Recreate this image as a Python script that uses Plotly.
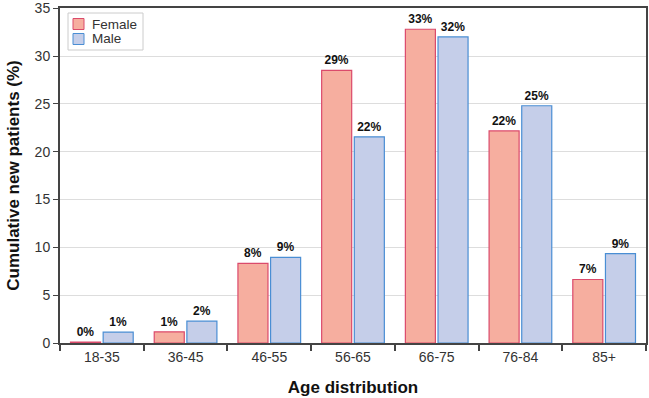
import plotly.graph_objects as go

categories = ["18-35", "36-45", "46-55", "56-65", "66-75", "76-84", "85+"]
female = [0.1, 1.17, 8.33, 28.5, 32.8, 22.17, 6.64]
male = [1.14, 2.28, 8.95, 21.55, 32.0, 24.8, 9.34]
female_labels = ["0%", "1%", "8%", "29%", "33%", "22%", "7%"]
male_labels = ["1%", "2%", "9%", "22%", "32%", "25%", "9%"]
series_names = ["Female", "Male"]

FONT = "Liberation Sans, Arial, sans-serif"
F_FILL, F_LINE = "#F6AE9F", "#DB4A6B"
M_FILL, M_LINE = "#C5CEE9", "#4A8ED4"

fig = go.Figure()
fig.add_trace(go.Bar(
    name=series_names[0], x=categories, y=female, text=female_labels,
    textposition="outside", cliponaxis=False,
    textfont=dict(family=FONT, size=12, color="#111111", weight="bold"),
    marker=dict(color=F_FILL, line=dict(color=F_LINE, width=1.2)),
))
fig.add_trace(go.Bar(
    name=series_names[1], x=categories, y=male, text=male_labels,
    textposition="outside", cliponaxis=False,
    textfont=dict(family=FONT, size=12, color="#111111", weight="bold"),
    marker=dict(color=M_FILL, line=dict(color=M_LINE, width=1.2)),
))

# custom legend, positioned in plot-area paper coordinates (plot: x 60..646, y 8..343 px)
def px_x(px):
    return (px - 60) / 586.0

def px_y(py):
    return (343 - py) / 335.0

fig.add_shape(type="rect", xref="paper", yref="paper", x0=px_x(68), x1=px_x(143), y0=px_y(50), y1=px_y(13),
              fillcolor="white", line=dict(color="#cccccc", width=1), layer="above")
fig.add_shape(type="rect", xref="paper", yref="paper", x0=px_x(73), x1=px_x(84), y0=px_y(29.5), y1=px_y(18.5),
              fillcolor=F_FILL, line=dict(color=F_LINE, width=1), layer="above")
fig.add_shape(type="rect", xref="paper", yref="paper", x0=px_x(73), x1=px_x(84), y0=px_y(44.5), y1=px_y(33.5),
              fillcolor=M_FILL, line=dict(color=M_LINE, width=1), layer="above")
fig.add_annotation(xref="paper", yref="paper", x=px_x(91), y=px_y(24), text=series_names[0], showarrow=False,
                   xanchor="left", yanchor="middle", borderpad=0,
                   font=dict(family=FONT, size=13.5, color="#333333"))
fig.add_annotation(xref="paper", yref="paper", x=px_x(91), y=px_y(39), text=series_names[1], showarrow=False,
                   xanchor="left", yanchor="middle", borderpad=0,
                   font=dict(family=FONT, size=13.5, color="#333333"))

fig.update_layout(
    width=649, height=398,
    margin=dict(l=60, r=3, t=8, b=55, autoexpand=False),
    paper_bgcolor="white", plot_bgcolor="white",
    barmode="group", bargap=0.22, bargroupgap=0.08,
    font=dict(family=FONT, size=14, color="#333333"),
    showlegend=False,
)
fig.update_xaxes(
    automargin=False,
    title=dict(text="Age distribution", font=dict(family=FONT, size=17, color="#111111", weight="bold"), standoff=17),
    showline=True, linecolor="#444444", linewidth=2, mirror=True,
    ticks="outside", tickson="boundaries", ticklen=6, tickcolor="#444444", tickwidth=2,
    tickfont=dict(family=FONT, size=14, color="#333333"),
)
fig.update_yaxes(
    automargin=False,
    title=dict(text="Cumulative new patients (%)", font=dict(family=FONT, size=17, color="#111111", weight="bold"), standoff=11),
    range=[0, 35.02], tickvals=[0, 5, 10, 15, 20, 25, 30, 35], ticklabeloverflow="allow",
    showline=True, linecolor="#444444", linewidth=2, mirror=True,
    ticks="outside", ticklen=5, tickcolor="#444444", tickwidth=1,
    showgrid=True, gridcolor="#dddddd", gridwidth=1, zeroline=False,
    tickfont=dict(family=FONT, size=14, color="#333333"),
)

fig.write_html("out.html", config={"displayModeBar": False},
               post_script="document.body.style.margin='0px';document.body.style.padding='0px';")
